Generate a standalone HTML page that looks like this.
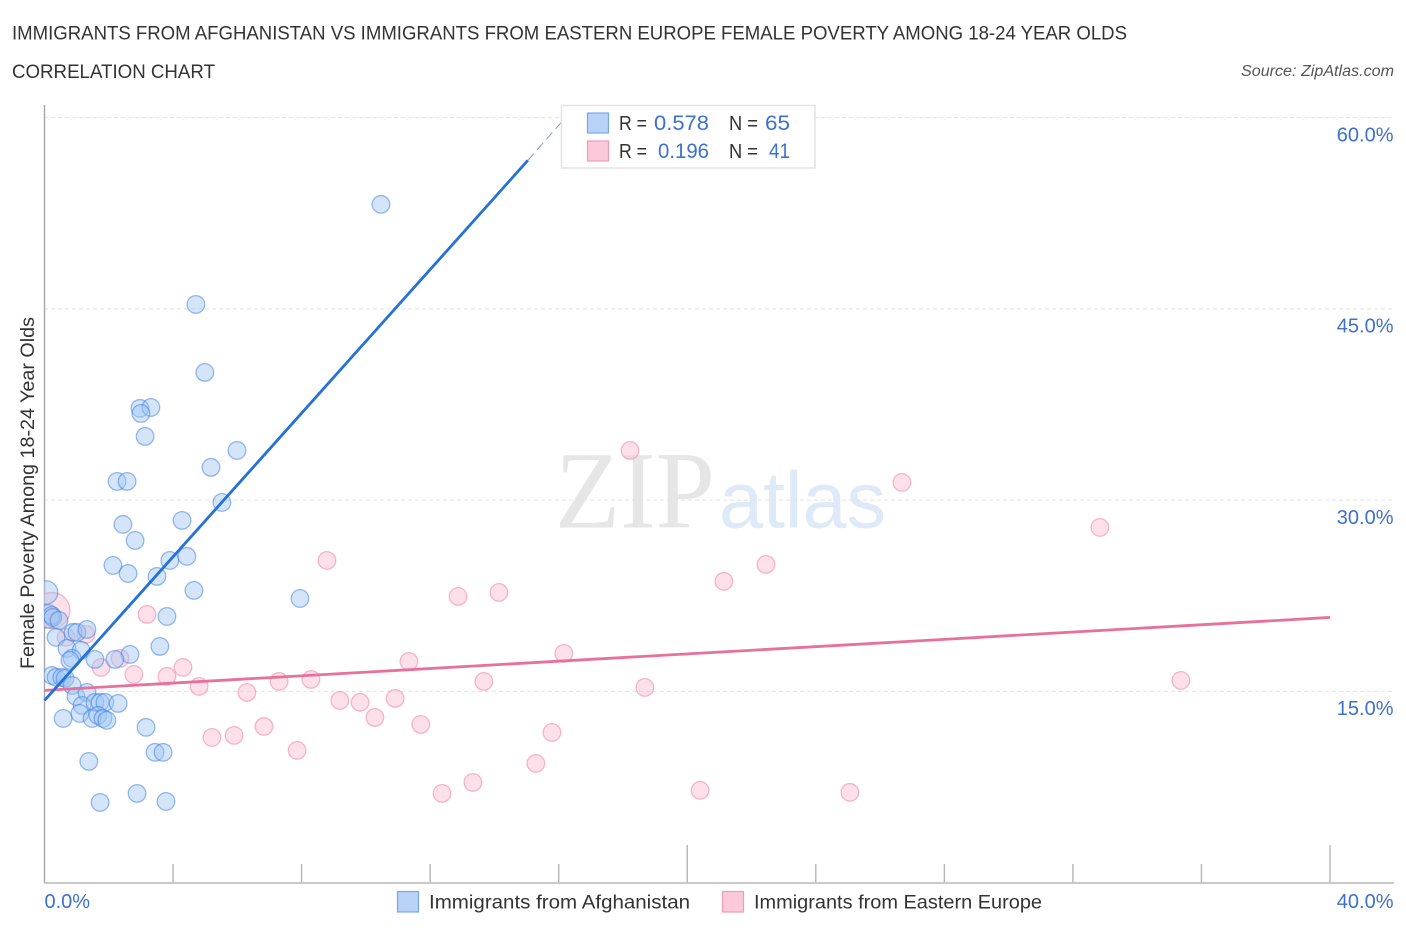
<!DOCTYPE html>
<html lang="en">
<head>
<meta charset="utf-8">
<title>Immigrants from Afghanistan vs Immigrants from Eastern Europe Female Poverty Correlation Chart</title>
<style>
html,body{margin:0;padding:0;background:#fff;}
svg{display:block;font-family:"Liberation Sans",sans-serif;}
</style>
</head>
<body>
<svg id="chart" width="1406" height="930" viewBox="0 0 1406 930" xmlns="http://www.w3.org/2000/svg">
  <defs>
    <clipPath id="plot-clip"><rect x="44" y="100" width="1350" height="783"/></clipPath>
  </defs>
  <rect x="0" y="0" width="1406" height="930" fill="#fff"/>
  <text x="12" y="39.5" font-size="19" fill="#333" textLength="1115" lengthAdjust="spacingAndGlyphs">IMMIGRANTS FROM AFGHANISTAN VS IMMIGRANTS FROM EASTERN EUROPE FEMALE POVERTY AMONG 18-24 YEAR OLDS</text>
  <text x="12" y="78" font-size="19" fill="#333" textLength="203" lengthAdjust="spacingAndGlyphs">CORRELATION CHART</text>
  <text x="1394" y="76" font-size="15.5" font-style="italic" fill="#555" text-anchor="end" textLength="153" lengthAdjust="spacingAndGlyphs">Source: ZipAtlas.com</text>

  <g>
    <text x="555" y="527.5" font-family="'Liberation Serif',serif" font-size="110" fill="#e6e6e6" textLength="160" lengthAdjust="spacingAndGlyphs">ZIP</text>
    <text x="719" y="527.5" font-size="80" fill="#dfeaf9" textLength="167" lengthAdjust="spacingAndGlyphs">atlas</text>
  </g>

  <g id="grid"></g>
  <g id="x-ticks"></g>
  <line x1="44.5" y1="105" x2="44.5" y2="883" stroke="#aaa" stroke-width="1.5"/>
  <line x1="44" y1="883" x2="1394" y2="883" stroke="#c2c2c2" stroke-width="1.8"/>

  <g id="points" clip-path="url(#plot-clip)"></g>
  <g id="trends"></g>
  <g id="y-labels"></g>
  <g id="x-labels"></g>

  <text transform="translate(34 669) rotate(-90)" font-size="19" fill="#333" textLength="352" lengthAdjust="spacingAndGlyphs">Female Poverty Among 18-24 Year Olds</text>

  <g>
    <rect x="561.5" y="105.5" width="253.5" height="62.5" fill="#fff" stroke="#e2e2e2" stroke-width="1.5"/>
    <rect x="587.5" y="113" width="21" height="20" fill="#b9d3f8" stroke="#7ba6e6" stroke-width="1.2"/>
    <rect x="587.5" y="141" width="21" height="20" fill="#fcc9da" stroke="#ee9cb8" stroke-width="1.2"/>
    <text x="619" y="130" font-size="20" fill="#333" textLength="28" lengthAdjust="spacingAndGlyphs">R =</text>
    <text x="654" y="130" font-size="21" fill="#3d70cf" textLength="55" lengthAdjust="spacingAndGlyphs">0.578</text>
    <text x="729" y="130" font-size="20" fill="#333" textLength="29" lengthAdjust="spacingAndGlyphs">N =</text>
    <text x="765" y="130" font-size="21" fill="#3d70cf" textLength="25" lengthAdjust="spacingAndGlyphs">65</text>
    <text x="619" y="158" font-size="20" fill="#333" textLength="28" lengthAdjust="spacingAndGlyphs">R =</text>
    <text x="658" y="158" font-size="21" fill="#3d70cf" textLength="51" lengthAdjust="spacingAndGlyphs">0.196</text>
    <text x="729" y="158" font-size="20" fill="#333" textLength="29" lengthAdjust="spacingAndGlyphs">N =</text>
    <text x="769" y="158" font-size="21" fill="#3d70cf" textLength="21" lengthAdjust="spacingAndGlyphs">41</text>
  </g>

  <g>
    <g>
      <rect x="397.5" y="891.5" width="21" height="20.5" fill="#b9d3f8" stroke="#7ba6e6" stroke-width="1.2"/>
      <text x="429" y="908.5" font-size="19.5" fill="#333" textLength="261" lengthAdjust="spacingAndGlyphs">Immigrants from Afghanistan</text>
    </g>
    <g>
      <rect x="722.5" y="891.5" width="21" height="20.5" fill="#fcc9da" stroke="#ee9cb8" stroke-width="1.2"/>
      <text x="754" y="908.5" font-size="19.5" fill="#333" textLength="288" lengthAdjust="spacingAndGlyphs">Immigrants from Eastern Europe</text>
    </g>
  </g>
</svg>

<script>
const yTickValues = [60, 45, 30, 15];
const yTickLabels = ["60.0%", "45.0%", "30.0%", "15.0%"];
const xTickValues = [0, 4, 8, 12, 16, 20, 24, 28, 32, 36, 40];
const xMajorTicks = [20, 40];
const xEndValues = [0, 40];
const xEndLabels = ["0.0%", "40.0%"];

const afghanistanX = [10.47,4.71,4.99,2.97,3.31,3.00,3.13,5.99,5.18,2.26,2.57,5.52,2.44,4.28,2.82,3.90,4.43,2.13,2.60,3.50,4.65,7.95,3.81,3.59,2.66,2.19,0.23,0.26,0.45,0.36,0.89,1.01,1.32,0.70,1.14,0.86,0.79,1.57,0.23,0.36,0.54,0.64,0.86,0.98,1.32,1.17,1.10,1.57,1.48,1.73,1.88,2.29,1.66,1.82,1.94,0.58,3.16,3.44,3.69,1.38,2.88,1.73,3.78];
const afghanistanY = [53.2,45.35,40.02,37.2,37.27,36.8,35.0,33.9,32.57,31.47,31.47,29.82,28.1,28.41,26.84,25.27,25.59,24.88,24.25,24.02,22.92,22.29,20.88,18.53,17.9,17.51,20.96,20.8,20.57,19.24,19.63,19.63,19.86,18.37,18.22,17.59,17.43,17.51,16.25,16.1,16.1,16.02,15.47,14.61,14.92,13.9,13.27,14.14,12.88,14.14,14.14,14.06,13.12,12.88,12.73,12.88,12.18,10.22,10.22,9.51,7.0,6.29,6.37];
const afghanistanLargeX = [0.05, 0.11];
const afghanistanLargeY = [22.76, 20.88];

const easternEuropeX = [18.22,26.68,32.84,8.79,22.45,21.14,14.14,12.87,3.19,1.29,0.67,1.76,2.35,2.78,3.81,4.31,4.81,6.30,7.30,8.29,9.19,9.82,10.91,10.28,11.71,11.34,13.67,16.16,18.68,35.36,5.21,5.90,6.83,7.86,15.79,15.29,13.33,12.37,20.40,25.06];
const easternEuropeY = [33.9,31.39,27.86,25.27,24.96,23.63,22.76,22.45,21.04,19.47,19.24,16.88,17.59,16.33,16.18,16.88,15.39,14.92,15.78,15.94,14.29,14.14,14.45,12.96,12.41,17.35,15.78,17.98,15.31,15.86,11.39,11.55,12.25,10.37,11.78,9.35,7.86,7.0,7.24,7.08];
const easternEuropeLargeX = [0.23];
const easternEuropeLargeY = [21.35];

const afghanistanTrendX = [0, 15.04];
const afghanistanTrendY = [14.29, 56.65];
const afghanistanTrendDashX = [15.04, 16.19];
const afghanistanTrendDashY = [56.65, 59.94];
const easternEuropeTrendX = [0, 40];
const easternEuropeTrendY = [15.08, 20.8];

const SVG_NS = "http://www.w3.org/2000/svg";
function xScale(v) { return 44.5 + v * (1285.5 / 40); }
function yScale(v) { return 882.65 - v * 12.75; }
function make(tag, attrs, parent) {
  const el = document.createElementNS(SVG_NS, tag);
  for (const k in attrs) el.setAttribute(k, attrs[k]);
  parent.appendChild(el);
  return el;
}

const gridGroup = document.getElementById("grid");
yTickValues.forEach(function (v) {
  const el = make("line", {x1: 44, x2: 1394, y1: yScale(v), y2: yScale(v), stroke: "#e2e2e2", "stroke-width": 1, "stroke-dasharray": "4 3"}, gridGroup);
  
  
});

const yLabelGroup = document.getElementById("y-labels");
yTickValues.forEach(function (v, i) {
  const el = make("text", {x: 1393.5, y: yScale(v) + 23.8, "text-anchor": "end", "font-size": 20, fill: "#3d70cf"}, yLabelGroup);
  el.textContent = yTickLabels[i];
  
  
});

const xTickGroup = document.getElementById("x-ticks");
xTickValues.slice(1).forEach(function (v) {
  const top = xMajorTicks.indexOf(v) >= 0 ? 845 : 864;
  const el = make("line", {x1: xScale(v), x2: xScale(v), y1: top, y2: 883, stroke: "#b5b5b5", "stroke-width": 1.4}, xTickGroup);
  
  
});

const xLabelGroup = document.getElementById("x-labels");
xEndValues.forEach(function (v, i) {
  const el = make("text", {x: i === 0 ? xScale(v) : 1393.5, y: 908, "text-anchor": i === 0 ? "start" : "end", "font-size": 20, fill: "#3d70cf"}, xLabelGroup);
  el.textContent = xEndLabels[i];
  
  
});

const pointGroup = document.getElementById("points");
function drawPoints(xs, ys, radius, fill, stroke, name) {
  xs.forEach(function (x, i) {
    const el = make("circle", {cx: xScale(x), cy: yScale(ys[i]), r: radius, fill: fill, stroke: stroke, "stroke-width": 1.3}, pointGroup);
    
    
  });
}
const pinkFill = "rgba(250,190,210,0.48)", pinkStroke = "rgba(236,130,165,0.55)";
const blueFill = "rgba(160,198,245,0.45)", blueStroke = "rgba(60,125,220,0.52)";
drawPoints(easternEuropeLargeX, easternEuropeLargeY, 18, pinkFill, pinkStroke, 'point-eastern-europe');
drawPoints(easternEuropeX, easternEuropeY, 8.8, pinkFill, pinkStroke, 'point-eastern-europe');
drawPoints(afghanistanLargeX, afghanistanLargeY, 11.7, blueFill, blueStroke, 'point-afghanistan');
drawPoints(afghanistanX, afghanistanY, 8.8, blueFill, blueStroke, 'point-afghanistan');

const trendGroup = document.getElementById("trends");
const trendPink = make("line", {x1: xScale(easternEuropeTrendX[0]), y1: yScale(easternEuropeTrendY[0]), x2: xScale(easternEuropeTrendX[1]), y2: yScale(easternEuropeTrendY[1]), stroke: "#e8709c", "stroke-width": 2.8}, trendGroup);


const trendBlue = make("line", {x1: xScale(afghanistanTrendX[0]), y1: yScale(afghanistanTrendY[0]), x2: xScale(afghanistanTrendX[1]), y2: yScale(afghanistanTrendY[1]), stroke: "#2472d8", "stroke-width": 2.8}, trendGroup);


const trendDash = make("line", {x1: xScale(afghanistanTrendDashX[0]), y1: yScale(afghanistanTrendDashY[0]), x2: xScale(afghanistanTrendDashX[1]), y2: yScale(afghanistanTrendDashY[1]), stroke: "#7f9fd8", "stroke-width": 1, "stroke-dasharray": "9 5"}, trendGroup);


</script>
</body>
</html>
